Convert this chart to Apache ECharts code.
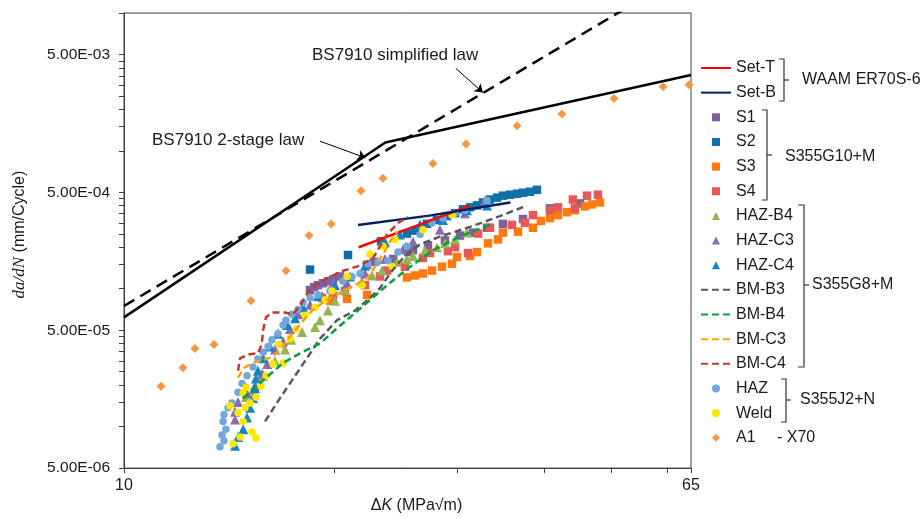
<!DOCTYPE html>
<html>
<head>
<meta charset="utf-8">
<script src="https://cdn.jsdelivr.net/npm/echarts@6.0.0/dist/echarts.min.js"></script>
<style>
  html, body { margin: 0; padding: 0; background: #fff; }
  #chart { width: 921px; height: 519px; }
</style>
</head>
<body>
<div id="chart"></div>
<script>
// crack growth data, [dK (MPa√m), da/dN (mm/cycle)]
const setT = [[21.7, 2.0e-4], [26.0, 2.81e-4], [31.3, 4.0e-4]];
const setB = [[21.65, 2.9e-4], [27.4, 3.39e-4], [35.8, 4.22e-4]];

const s1 = [[18.48, 9.78e-5], [18.73, 1.027e-4], [18.97, 1.061e-4], [19.29, 1.096e-4], [19.61, 1.132e-4],
  [19.94, 1.17e-4], [20.40, 1.228e-4], [22.31, 1.493e-4], [22.83, 1.567e-4], [24.31, 1.645e-4],
  [25.54, 1.844e-4], [25.96, 1.905e-4], [27.28, 2.066e-4], [28.85, 2.241e-4], [30.32, 2.431e-4],
  [31.65, 2.553e-4], [33.15, 2.768e-4], [34.94, 2.955e-4], [37.33, 3.204e-4], [40.81, 3.832e-4], [45.06, 4.156e-4]];
const s2 = [[18.48, 1.377e-4], [20.95, 1.756e-4], [23.36, 2.205e-4], [25.45, 2.511e-4], [26.14, 2.637e-4],
  [27.19, 2.955e-4], [28.10, 3.153e-4], [29.05, 3.365e-4], [29.83, 3.533e-4], [30.62, 3.77e-4],
  [31.34, 3.894e-4], [32.07, 4.023e-4], [32.71, 4.224e-4], [33.48, 4.435e-4], [34.26, 4.581e-4],
  [34.94, 4.732e-4], [35.76, 4.81e-4], [36.60, 4.888e-4], [37.33, 4.968e-4], [38.20, 5.05e-4], [39.09, 5.216e-4]];
const s3 = [[19.74, 8.18e-5], [20.88, 8.45e-5], [22.31, 9.02e-5], [25.45, 1.208e-4], [26.14, 1.248e-4],
  [26.83, 1.29e-4], [27.64, 1.354e-4], [28.57, 1.445e-4], [29.53, 1.517e-4], [30.03, 1.70e-4],
  [31.34, 1.727e-4], [32.07, 1.844e-4], [33.26, 2.134e-4], [34.37, 2.278e-4], [34.94, 2.553e-4],
  [36.72, 2.594e-4], [38.58, 2.768e-4], [39.61, 3.102e-4], [40.81, 3.257e-4], [41.90, 3.42e-4],
  [43.17, 3.591e-4], [44.31, 3.709e-4], [45.81, 3.958e-4], [46.88, 4.089e-4], [48.13, 4.224e-4]];
const s4 = [[19.23, 8.59e-5], [19.94, 8.875e-5], [20.74, 9.63e-5], [22.16, 1.061e-4], [23.28, 1.228e-4],
  [23.83, 1.354e-4], [25.28, 1.445e-4], [26.83, 1.672e-4], [27.46, 1.814e-4], [29.14, 1.874e-4],
  [29.83, 2.0e-4], [31.13, 1.814e-4], [32.18, 2.511e-4], [33.48, 2.768e-4], [36.00, 2.907e-4],
  [37.57, 3.003e-4], [38.58, 3.42e-4], [40.81, 3.709e-4], [41.90, 3.894e-4], [44.02, 4.435e-4],
  [44.31, 3.832e-4], [46.11, 4.732e-4], [47.81, 4.81e-4]];

const hazB4 = [[14.96, 1.637e-5], [15.31, 1.835e-5], [15.83, 2.342e-5], [16.46, 2.988e-5], [17.02, 3.631e-5],
  [17.36, 4.272e-5], [18.00, 4.864e-5], [18.79, 5.275e-5], [19.10, 5.91e-5], [19.61, 6.954e-5],
  [20.07, 8.18e-5], [20.74, 9.78e-5], [21.94, 1.132e-4], [22.68, 1.248e-4], [23.43, 1.354e-4],
  [24.63, 1.567e-4], [25.45, 1.645e-4], [25.96, 1.727e-4], [27.01, 1.905e-4], [28.10, 2.0e-4],
  [28.85, 2.134e-4], [29.83, 2.278e-4], [31.03, 2.553e-4]];
const hazC3 = [[14.43, 1.127e-5], [14.43, 1.283e-5], [14.57, 1.51e-5], [15.01, 1.747e-5], [15.41, 1.99e-5],
  [15.77, 2.419e-5], [16.04, 2.846e-5], [16.46, 3.631e-5], [16.91, 4.136e-5], [17.30, 5.107e-5],
  [17.76, 6.52e-5], [18.48, 7.666e-5], [19.23, 8.875e-5], [19.94, 1.096e-4], [20.88, 1.096e-4],
  [22.16, 1.29e-4], [23.67, 1.645e-4], [25.12, 1.936e-4], [25.96, 2.205e-4], [28.38, 2.68e-4],
  [30.82, 3.533e-4], [32.93, 4.363e-4]];
const hazC4 = [[14.43, 7.27e-6], [14.57, 8.41e-6], [14.82, 9.58e-6], [15.01, 1.164e-5], [15.16, 1.37e-5],
  [15.31, 1.61e-5], [15.41, 1.896e-5], [15.46, 2.23e-5], [15.56, 2.54e-5], [15.83, 3.137e-5],
  [16.19, 3.812e-5], [16.62, 4.71e-5], [17.13, 5.45e-5], [17.59, 6.106e-5], [18.06, 7.30e-5],
  [18.97, 8.875e-5], [20.07, 1.061e-4], [21.09, 1.228e-4], [22.16, 1.469e-4], [23.67, 2.169e-4],
  [24.87, 2.471e-4], [26.57, 2.907e-4], [28.66, 3.153e-4], [31.03, 3.709e-4], [33.15, 4.023e-4]];

const bmB3 = [[15.93, 1.09e-5], [16.74, 1.61e-5], [18.06, 2.85e-5], [19.10, 4.34e-5], [20.20, 5.91e-5],
  [21.44, 6.95e-5], [22.53, 8.59e-5], [23.28, 1.01e-4], [24.23, 1.35e-4], [25.29, 1.73e-4],
  [26.57, 2.10e-4], [28.38, 2.39e-4], [31.33, 2.81e-4], [34.59, 3.36e-4], [37.83, 4.02e-4]];
const bmB4 = [[14.81, 1.61e-5], [15.82, 2.16e-5], [16.90, 2.89e-5], [17.88, 3.40e-5], [19.10, 4.0e-5],
  [20.07, 5.02e-5], [21.09, 6.21e-5], [22.30, 7.92e-5], [23.83, 1.06e-4], [25.70, 1.44e-4],
  [27.73, 1.90e-4], [30.32, 2.39e-4], [33.47, 2.91e-4]];
const bmC3 = [[14.57, 2.267e-5], [14.87, 2.667e-5], [15.26, 2.892e-5], [15.77, 3.037e-5], [16.30, 3.189e-5],
  [16.85, 3.751e-5], [17.41, 4.71e-5], [18.00, 5.722e-5], [18.60, 6.954e-5], [19.42, 8.18e-5],
  [20.40, 9.318e-5], [21.44, 1.061e-4], [22.38, 1.208e-4], [23.13, 1.567e-4], [23.67, 1.874e-4],
  [24.07, 2.205e-4], [24.63, 2.594e-4]];
const bmC4 = [[14.57, 2.54e-5], [14.67, 3.14e-5], [15.16, 3.35e-5], [15.57, 3.40e-5], [15.77, 4.0e-5],
  [15.81, 4.86e-5], [15.98, 6.21e-5], [16.30, 6.73e-5], [17.02, 6.73e-5], [17.47, 6.52e-5],
  [17.88, 7.55e-5], [18.48, 9.94e-5], [19.42, 1.17e-4], [20.61, 1.35e-4], [21.79, 1.47e-4],
  [22.75, 1.67e-4], [23.28, 2.03e-4], [23.83, 2.47e-4], [24.71, 3.0e-4], [25.54, 3.31e-4]];

const haz = [[13.73, 7.15e-6], [13.91, 7.88e-6], [13.82, 8.69e-6], [14.00, 9.58e-6], [13.87, 1.091e-5],
  [13.91, 1.222e-5], [14.10, 1.37e-5], [14.28, 1.486e-5], [14.57, 1.775e-5], [14.77, 2.056e-5],
  [15.01, 2.342e-5], [15.31, 2.71e-5], [15.56, 3.087e-5], [15.83, 3.458e-5], [16.09, 3.812e-5],
  [16.30, 4.272e-5], [16.62, 4.71e-5], [16.91, 5.45e-5], [17.07, 5.91e-5], [17.41, 6.52e-5],
  [17.76, 7.07e-5], [18.06, 7.92e-5], [18.48, 8.59e-5], [18.97, 9.02e-5], [19.74, 9.63e-5],
  [20.60, 1.132e-4], [21.23, 1.228e-4], [21.80, 1.29e-4], [22.38, 1.517e-4], [23.13, 1.567e-4],
  [23.90, 1.593e-4], [24.71, 1.844e-4], [25.45, 2.033e-4], [26.57, 2.471e-4], [27.64, 3.003e-4],
  [28.66, 3.257e-4], [29.83, 3.533e-4], [30.82, 3.709e-4], [33.15, 4.363e-4]];
const weld = [[14.33, 7.51e-6], [14.67, 8.41e-6], [15.26, 9.12e-6], [15.46, 8.27e-6], [14.82, 1.091e-5],
  [14.57, 1.263e-5], [14.19, 1.415e-5], [14.91, 1.37e-5], [15.16, 1.486e-5], [14.82, 1.747e-5],
  [15.46, 1.637e-5], [14.96, 1.927e-5], [15.72, 1.958e-5], [15.98, 2.342e-5], [16.35, 2.846e-5],
  [16.91, 2.892e-5], [16.68, 3.938e-5], [17.30, 4.342e-5], [17.65, 5.107e-5], [18.18, 6.411e-5],
  [18.79, 7.30e-5], [19.42, 8.32e-5], [19.87, 9.63e-5], [20.88, 1.228e-4], [21.94, 1.061e-4],
  [22.53, 1.785e-4], [23.51, 2.033e-4], [24.23, 1.445e-4], [24.47, 2.278e-4], [26.83, 2.68e-4], [29.53, 3.42e-4]];
const a1 = [[11.30, 1.96e-5], [12.15, 2.67e-5], [12.64, 3.69e-5], [13.46, 3.94e-5], [15.21, 8.18e-5],
  [17.07, 1.35e-4], [18.42, 2.43e-4], [19.81, 2.95e-4], [21.87, 5.13e-4], [23.51, 6.34e-4],
  [27.73, 8.09e-4], [30.93, 1.12e-3], [36.60, 1.52e-3], [42.46, 1.85e-3], [50.41, 2.40e-3],
  [59.27, 2.92e-3], [64.57, 3.02e-3]];

const bsTwoStage = [[10, 6.2e-5], [23.7, 1.15e-3], [65, 3.55e-3]];
const bsSimplified = [[10, 7.5e-5], [55, 1.25e-2]];

// axis ticks (Excel style log axes)
const xTicks = [10, 20, 30, 40, 50, 60, 65];
const xLabels = [10, 65];
const yLabels = [5e-6, 5e-5, 5e-4, 5e-3];
const yTicks = [];
yLabels.forEach(m => { for (let k = 1; k <= 9; k++) yTicks.push(m * k); });
yTicks.push(1e-2);

const legendNames = ['Set-T', 'Set-B', 'S1', 'S2', 'S3', 'S4', 'HAZ-B4', 'HAZ-C3', 'HAZ-C4',
  'BM-B3', 'BM-B4', 'BM-C3', 'BM-C4', 'HAZ', 'Weld', 'A1'];

// legend icons: path icons keep their aspect, so markers stay square in the 30px slot
const ICONS = {
  rect: 'path://M0,0L10,0L10,10L0,10Z',
  triangle: 'path://M5,0L10,10L0,10Z',
  circle: 'path://M5,0A5,5,0,1,1,5,10A5,5,0,1,1,5,0Z',
  diamond: 'path://M5,0L10,5L5,10L0,5Z'
};
const markerOf = { S1: 'rect', S2: 'rect', S3: 'rect', S4: 'rect',
  'HAZ-B4': 'triangle', 'HAZ-C3': 'triangle', 'HAZ-C4': 'triangle',
  HAZ: 'circle', Weld: 'circle', A1: 'diamond' };

const SANS = "'Liberation Sans', Arial, sans-serif";
const SERIF = "'Liberation Serif', 'Times New Roman', serif";
const INK = '#1a1a1a';

function sci(v) {
  const e = Math.floor(Math.log10(v) + 1e-9);
  const m = v / Math.pow(10, e);
  return m.toFixed(2) + 'E' + (e < 0 ? '-' : '+') + String(Math.abs(e)).padStart(2, '0');
}

function dots(name, data, symbol, color, size) {
  return { name, type: 'scatter', data, symbol, symbolSize: size,
    itemStyle: { color, opacity: 1 }, z: 3 };
}
function curve(name, data, color, dashed) {
  return {
    name, type: 'line', data, symbol: 'none', showSymbol: false, z: 4,
    lineStyle: { color, width: 2.5, type: dashed ? [7, 4] : 'solid' },
    itemStyle: { color }
  };
}

const chart = echarts.init(document.getElementById('chart'), null, { renderer: 'canvas' });

const option = {
  animation: false,
  textStyle: { fontFamily: SANS, color: INK },
  grid: { left: 124, right: 230, top: 13, bottom: 39, show: true, borderColor: '#404040', borderWidth: 1 },
  xAxis: {
    type: 'log', logBase: 10, min: 10, max: 65,
    name: '{d|Δ}{k|K} (MPa√m)', nameLocation: 'middle', nameGap: 25,
    nameTextStyle: { fontSize: 16, color: INK, padding: [0, 0, 0, 18],
      rich: { d: { fontSize: 16, fontFamily: SANS }, k: { fontSize: 16, fontStyle: 'italic', fontFamily: SANS } } },
    axisLine: { show: true, lineStyle: { color: '#404040', width: 1 } },
    axisTick: { show: true, inside: false, length: 5, customValues: xTicks, lineStyle: { color: '#404040' } },
    axisLabel: { customValues: xLabels, fontSize: 16, color: INK, margin: 9, formatter: v => String(Math.round(v)) },
    splitLine: { show: false }, minorTick: { show: false }, minorSplitLine: { show: false }
  },
  yAxis: {
    type: 'log', logBase: 10, min: 5e-6, max: 1e-2,
    name: '{i|da/dN} (mm/Cycle)', nameLocation: 'middle', nameGap: 96, nameRotate: 90,
    nameTextStyle: { fontSize: 16, color: INK, padding: [0, 0, 0, 12],
      rich: { i: { fontSize: 17, fontStyle: 'italic', fontFamily: SERIF } } },
    axisLine: { show: true, lineStyle: { color: '#404040', width: 1 } },
    axisTick: { show: true, inside: false, length: 5, customValues: yTicks, lineStyle: { color: '#404040' } },
    axisLabel: { customValues: yLabels, fontSize: 15.5, color: INK, margin: 14, formatter: v => sci(v) },
    splitLine: { show: false }, minorTick: { show: false }, minorSplitLine: { show: false }
  },
  legend: {
    orient: 'vertical', left: 700, top: 60, padding: 0,
    itemWidth: 30, itemHeight: 8, itemGap: 8.65, selectedMode: false, align: 'left',
    symbolKeepAspect: true,
    textStyle: { fontSize: 16, color: INK, fontFamily: SANS },
    data: legendNames.map(n => markerOf[n]
      ? { name: n, icon: ICONS[markerOf[n]] }
      : { name: n, itemStyle: { opacity: 0 } })
  },
  series: [
    {
      name: 'BS7910 2-stage law', type: 'line', data: bsTwoStage, symbol: 'none', z: 2,
      lineStyle: { color: '#000', width: 2.5 },
      markLine: {
        silent: true, symbol: ['none', 'arrow'], symbolSize: 8, label: { show: false },
        lineStyle: { color: '#000', width: 1, type: 'solid' },
        data: [[{ coord: [19.1, 1.175e-3] }, { coord: [22.2, 8.9e-4] }]]
      }
    },
    {
      name: 'BS7910 simplified law', type: 'line', data: bsSimplified, symbol: 'none', z: 2,
      lineStyle: { color: '#000', width: 2.5, type: [12, 7] },
      markLine: {
        silent: true, symbol: ['none', 'arrow'], symbolSize: 8, label: { show: false },
        lineStyle: { color: '#000', width: 1, type: 'solid' },
        data: [[{ coord: [29.9, 3.97e-3] }, { coord: [32.7, 2.65e-3] }]]
      }
    },
    curve('Set-T', setT, '#FF0000', false),
    curve('Set-B', setB, '#002060', false),
    dots('S1', s1, 'rect', '#7F609E', 8.5),
    dots('S2', s2, 'rect', '#1270A8', 8.5),
    dots('S3', s3, 'rect', '#FF7A10', 8.5),
    dots('S4', s4, 'rect', '#E35A59', 8.5),
    dots('HAZ-B4', hazB4, 'triangle', '#93B454', 10),
    dots('HAZ-C3', hazC3, 'triangle', '#8B6BB0', 10),
    dots('HAZ-C4', hazC4, 'triangle', '#1584C6', 10),
    curve('BM-B3', bmB3, '#595959', true),
    curve('BM-B4', bmB4, '#00A040', true),
    curve('BM-C3', bmC3, '#FFA010', true),
    curve('BM-C4', bmC4, '#C0392F', true),
    dots('HAZ', haz, 'circle', '#71A7D9', 7.5),
    dots('Weld', weld, 'circle', '#FFE600', 7.5),
    dots('A1', a1, 'diamond', '#F79646', 9)
  ],
  graphic: [
    { type: 'text', x: 312, y: 55, style: { text: 'BS7910 simplified law', font: '17px ' + SANS, fill: INK, verticalAlign: 'middle' } },
    { type: 'text', x: 152, y: 140, style: { text: 'BS7910 2-stage law', font: '17px ' + SANS, fill: INK, verticalAlign: 'middle' } },
    // legend group brackets
    { type: 'polyline', shape: { points: [[779, 59], [784, 59], [784, 101], [779, 101]] }, style: { stroke: '#333', lineWidth: 1.2, fill: null } },
    { type: 'line', shape: { x1: 784, y1: 80, x2: 789, y2: 80 }, style: { stroke: '#333', lineWidth: 1.2 } },
    { type: 'text', x: 802, y: 80, style: { text: 'WAAM ER70S-6', font: '16px ' + SANS, fill: INK, verticalAlign: 'middle' } },
    { type: 'polyline', shape: { points: [[762, 110], [767, 110], [767, 200], [762, 200]] }, style: { stroke: '#333', lineWidth: 1.2, fill: null } },
    { type: 'line', shape: { x1: 767, y1: 155, x2: 772, y2: 155 }, style: { stroke: '#333', lineWidth: 1.2 } },
    { type: 'text', x: 785, y: 157, style: { text: 'S355G10+M', font: '16px ' + SANS, fill: INK, verticalAlign: 'middle' } },
    { type: 'polyline', shape: { points: [[798, 205], [804, 205], [804, 367], [798, 367]] }, style: { stroke: '#333', lineWidth: 1.2, fill: null } },
    { type: 'line', shape: { x1: 804, y1: 285, x2: 809, y2: 285 }, style: { stroke: '#333', lineWidth: 1.2 } },
    { type: 'text', x: 812, y: 285, style: { text: 'S355G8+M', font: '16px ' + SANS, fill: INK, verticalAlign: 'middle' } },
    { type: 'polyline', shape: { points: [[781, 379], [786, 379], [786, 422], [781, 422]] }, style: { stroke: '#333', lineWidth: 1.2, fill: null } },
    { type: 'line', shape: { x1: 786, y1: 400, x2: 791, y2: 400 }, style: { stroke: '#333', lineWidth: 1.2 } },
    { type: 'text', x: 800, y: 400, style: { text: 'S355J2+N', font: '16px ' + SANS, fill: INK, verticalAlign: 'middle' } },
    { type: 'text', x: 777, y: 437.5, style: { text: '- X70', font: '16px ' + SANS, fill: INK, verticalAlign: 'middle' } }
  ]
};

chart.setOption(option);
window.addEventListener('resize', () => chart.resize());
</script>
</body>
</html>
